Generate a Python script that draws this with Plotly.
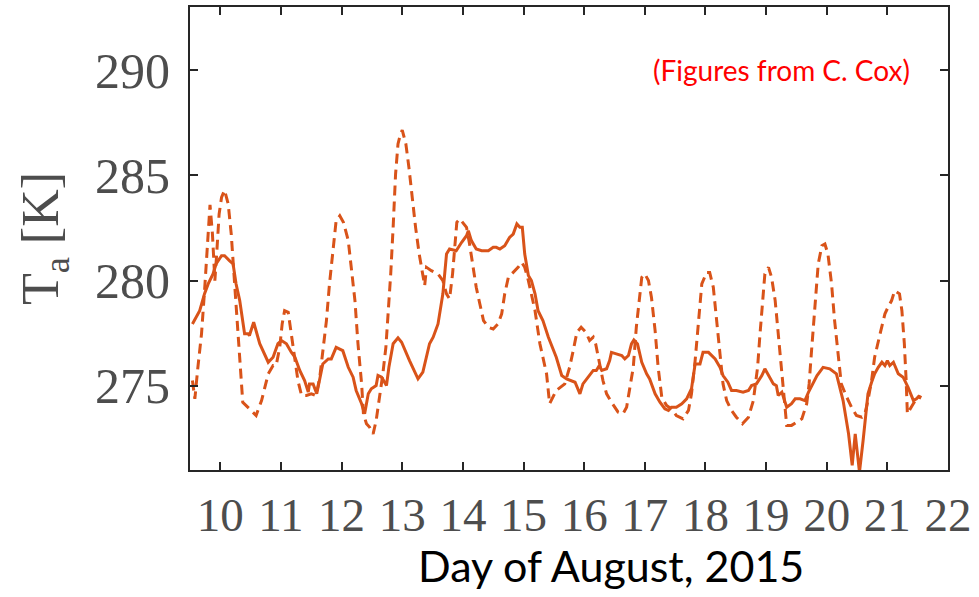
import plotly.graph_objects as go

# ---- data ----
day_solid = [9.54, 9.66, 9.74, 9.80, 9.88, 9.93, 10.02, 10.07, 10.15, 10.21, 10.26, 10.32, 10.40, 10.46, 10.48,
             10.55, 10.65, 10.79, 10.87, 10.95, 11.01, 11.09, 11.17, 11.23, 11.31, 11.39, 11.45, 11.47, 11.53,
             11.59, 11.69, 11.78, 11.83, 11.91, 12.02, 12.11, 12.19, 12.24, 12.33, 12.38, 12.44, 12.49, 12.57,
             12.60, 12.66, 12.74, 12.78, 12.85, 12.93, 12.99, 13.12, 13.26, 13.34, 13.45, 13.51, 13.59, 13.67,
             13.73, 13.78, 13.89, 13.98, 14.06, 14.09, 14.14, 14.22, 14.31, 14.42, 14.50, 14.55, 14.61, 14.69,
             14.77, 14.83, 14.89, 14.94, 14.98, 15.02, 15.08, 15.13, 15.19, 15.24, 15.32, 15.41, 15.54, 15.63,
             15.71, 15.85, 15.93, 15.98, 16.09, 16.15, 16.20, 16.25, 16.29, 16.37, 16.42, 16.45, 16.53, 16.62,
             16.67, 16.73, 16.78, 16.82, 16.88, 16.95, 17.03, 17.08, 17.17, 17.25, 17.33, 17.39, 17.44, 17.52,
             17.61, 17.69, 17.77, 17.83, 17.91, 17.96, 18.05, 18.16, 18.24, 18.29, 18.37, 18.43, 18.51, 18.62,
             18.71, 18.76, 18.84, 18.93, 18.98, 19.03, 19.12, 19.17, 19.20, 19.26, 19.34, 19.42, 19.48, 19.56,
             19.64, 19.70, 19.75, 19.84, 19.94, 20.05, 20.16, 20.27, 20.36, 20.42, 20.47, 20.54, 20.60, 20.68,
             20.74, 20.79, 20.85, 20.91, 20.96, 21.00, 21.04, 21.10, 21.18, 21.26, 21.34, 21.43, 21.48, 21.53]
temp_solid = [277.94, 278.57, 279.38, 279.84, 280.32, 280.79, 281.18, 281.18, 280.95, 280.80, 279.84, 279.05,
              277.47, 277.47, 277.39, 278.02, 277.00, 276.12, 276.36, 277.00, 277.15, 277.00, 276.60, 276.36,
              275.73, 275.25, 274.70, 275.09, 275.09, 274.62, 276.04, 276.28, 276.28, 276.83, 276.67, 275.88,
              275.41, 274.78, 274.15, 273.67, 274.62, 274.86, 275.01, 275.49, 275.41, 275.01, 275.88, 277.00,
              277.28, 277.07, 276.20, 275.33, 275.65, 277.00, 277.31, 277.94, 279.37, 281.26, 281.50, 281.42,
              281.82, 282.13, 282.37, 281.90, 281.50, 281.42, 281.42, 281.58, 281.58, 281.50, 281.66, 282.05,
              282.21, 282.69, 282.53, 282.53, 281.26, 280.24, 280.00, 279.37, 278.57, 278.10, 277.31, 276.36,
              275.49, 275.33, 275.17, 274.62, 275.09, 275.49, 275.73, 275.73, 275.96, 275.73, 275.81, 276.20,
              276.59, 276.52, 276.44, 276.28, 276.44, 276.99, 277.18, 276.99, 276.12, 275.57, 275.33, 274.62,
              274.22, 273.91, 273.83, 273.98, 273.98, 274.15, 274.38, 274.86, 276.04, 276.04, 276.59, 276.59,
              276.28, 275.88, 275.49, 275.17, 274.78, 274.78, 274.70, 274.78, 275.01, 275.09, 275.49, 275.81,
              275.57, 275.09, 275.01, 274.54, 274.70, 273.98, 274.15, 274.38, 274.38, 274.30, 274.70, 275.01,
              275.49, 275.88, 275.81, 275.57, 274.30, 272.72, 271.22, 272.72, 270.90, 272.40, 274.62, 275.17,
              275.57, 275.88, 276.12, 275.96, 276.20, 275.96, 276.12, 275.57, 275.41, 274.94, 274.30, 274.38,
              274.54]

day_dashed = [9.54, 9.58, 9.63, 9.69, 9.74, 9.78, 9.81, 9.83, 9.87, 9.91, 9.94, 9.98, 10.02, 10.07, 10.13,
              10.18, 10.24, 10.29, 10.35, 10.37, 10.48, 10.59, 10.68, 10.79, 10.87, 10.92, 10.98, 11.02, 11.06,
              11.12, 11.17, 11.23, 11.28, 11.34, 11.42, 11.50, 11.58, 11.64, 11.69, 11.75, 11.80, 11.86, 11.91,
              11.97, 12.03, 12.11, 12.16, 12.22, 12.27, 12.33, 12.36, 12.41, 12.46, 12.52, 12.57, 12.63, 12.68,
              12.73, 12.77, 12.81, 12.85, 12.89, 12.93, 12.97, 13.00, 13.06, 13.11, 13.17, 13.22, 13.28, 13.33,
              13.37, 13.40, 13.48, 13.59, 13.67, 13.73, 13.78, 13.83, 13.87, 13.90, 13.95, 14.00, 14.06, 14.11,
              14.17, 14.22, 14.28, 14.34, 14.42, 14.50, 14.58, 14.64, 14.69, 14.75, 14.83, 14.91, 14.97, 15.02,
              15.08, 15.13, 15.19, 15.27, 15.38, 15.43, 15.54, 15.68, 15.76, 15.82, 15.88, 15.95, 16.03, 16.09,
              16.15, 16.19, 16.26, 16.31, 16.37, 16.45, 16.56, 16.64, 16.70, 16.75, 16.81, 16.86, 16.91, 16.95,
              17.00, 17.06, 17.11, 17.17, 17.22, 17.28, 17.36, 17.44, 17.52, 17.63, 17.72, 17.77, 17.83, 17.89,
              17.94, 18.02, 18.07, 18.13, 18.18, 18.24, 18.29, 18.35, 18.43, 18.51, 18.61, 18.71, 18.79, 18.86,
              18.90, 18.95, 18.98, 19.04, 19.09, 19.15, 19.20, 19.26, 19.31, 19.34, 19.42, 19.50, 19.59, 19.67,
              19.71, 19.75, 19.81, 19.86, 19.92, 19.97, 20.02, 20.08, 20.13, 20.19, 20.24, 20.33, 20.41, 20.49,
              20.58, 20.63, 20.68, 20.74, 20.79, 20.88, 20.96, 21.01, 21.07, 21.12, 21.20, 21.24, 21.28, 21.31,
              21.33, 21.41, 21.46, 21.51, 21.55]
temp_dashed = [275.25, 274.38, 275.88, 277.47, 279.52, 281.26, 282.85, 283.60, 282.21, 280.00, 281.26, 283.16,
               283.95, 284.30, 283.64, 282.21, 279.68, 277.47, 274.94, 274.22, 273.91, 273.59, 274.30, 275.57,
               275.96, 275.96, 276.83, 277.94, 278.57, 278.49, 277.47, 276.28, 275.25, 274.54, 274.54, 274.62,
               274.54, 275.41, 276.52, 278.10, 279.84, 281.58, 282.85, 283.08, 282.77, 281.90, 280.63, 279.05,
               277.00, 275.09, 273.67, 273.20, 273.04, 272.72, 273.35, 274.46, 275.57, 276.83, 278.42, 280.32,
               282.53, 285.06, 286.49, 286.96, 287.15, 286.49, 285.38, 283.64, 282.53, 281.26, 280.47, 279.76,
               280.63, 280.47, 280.32, 280.00, 279.37, 279.13, 280.32, 281.90, 282.77, 282.93, 282.77, 282.53,
               281.74, 280.63, 279.68, 278.89, 278.10, 277.78, 277.70, 277.94, 278.42, 279.37, 280.16, 280.39,
               280.63, 280.87, 280.63, 280.00, 279.37, 278.57, 277.00, 275.57, 274.15, 274.78, 275.09, 275.88,
               276.68, 277.54, 277.78, 277.54, 277.15, 277.31, 276.99, 275.88, 275.25, 274.62, 274.22, 273.75,
               273.67, 273.98, 274.78, 275.88, 277.78, 279.20, 280.15, 280.32, 280.00, 279.20, 277.62, 275.88,
               274.46, 274.06, 273.91, 273.59, 273.43, 273.83, 274.62, 276.20, 278.10, 279.84, 280.39, 280.39,
               279.68, 278.10, 276.52, 275.09, 274.30, 273.83, 273.51, 273.20, 273.51, 274.30, 275.88, 277.47,
               279.37, 280.32, 280.63, 280.16, 279.05, 277.47, 275.88, 273.98, 273.12, 273.12, 273.28, 273.43,
               274.15, 275.09, 276.68, 279.05, 280.79, 281.66, 281.74, 281.26, 279.84, 278.10, 276.52, 275.09,
               274.46, 273.98, 273.59, 273.51, 273.67, 274.30, 275.25, 276.36, 277.47, 278.42, 278.73, 279.05,
               279.52, 279.37, 278.57, 277.00, 275.25, 273.67, 274.06, 274.30, 274.30, 274.54]

x_ticks = list(range(10, 23))
y_ticks = [275, 280, 285, 290]
x_range = [9.5, 22]
y_range = [271, 293]
note_text = "(Figures from C. Cox)"
x_title = "Day of August, 2015"
y_title = "T<sub>a</sub> [K]"

LINE = "#D95319"
AX = "#262626"
TICKC = "#4d4d4d"
SERIF = "Liberation Serif, Times New Roman, serif"
SANS = "Lato, Open Sans, sans-serif"

fig = go.Figure()
fig.add_trace(go.Scatter(x=day_solid, y=temp_solid, mode="lines",
                         line=dict(color=LINE, width=3), showlegend=False))
fig.add_trace(go.Scatter(x=day_dashed, y=temp_dashed, mode="lines",
                         line=dict(color=LINE, width=3, dash="10px,6px"), showlegend=False))

fig.add_annotation(x=19.25, y=290, xref="x", yref="y", text=note_text, showarrow=False,
                   font=dict(family=SANS, size=28, color="#FF0000"))

# x-axis title (off-centre in the reference, so placed as an annotation)
fig.add_annotation(x=0.555, y=-0.207, xref="paper", yref="paper", text=x_title, showarrow=False,
                   xanchor="center", yanchor="middle",
                   font=dict(family=SANS, size=43, color="black"))

fig.update_layout(
    width=979, height=597,
    margin=dict(l=190, r=31, t=5, b=127),
    paper_bgcolor="white", plot_bgcolor="white",
    xaxis=dict(range=x_range, tickvals=x_ticks, ticktext=[str(v) for v in x_ticks],
               showgrid=False, zeroline=False, showline=True, linecolor=AX, linewidth=2,
               mirror="ticks", ticks="inside", ticklen=8, tickwidth=2, tickcolor=AX,
               tickfont=dict(family=SERIF, size=47, color=TICKC), ticklabelstandoff=3),
    yaxis=dict(range=y_range, tickvals=y_ticks, ticktext=[str(v) for v in y_ticks],
               showgrid=False, zeroline=False, showline=True, linecolor=AX, linewidth=2,
               mirror="ticks", ticks="inside", ticklen=8, tickwidth=2, tickcolor=AX,
               tickfont=dict(family=SERIF, size=50, color=TICKC), ticklabelstandoff=8,
               title=dict(text=y_title, standoff=20,
                          font=dict(family=SERIF, size=52, color=TICKC))),
)

fig.write_html("out.html")
